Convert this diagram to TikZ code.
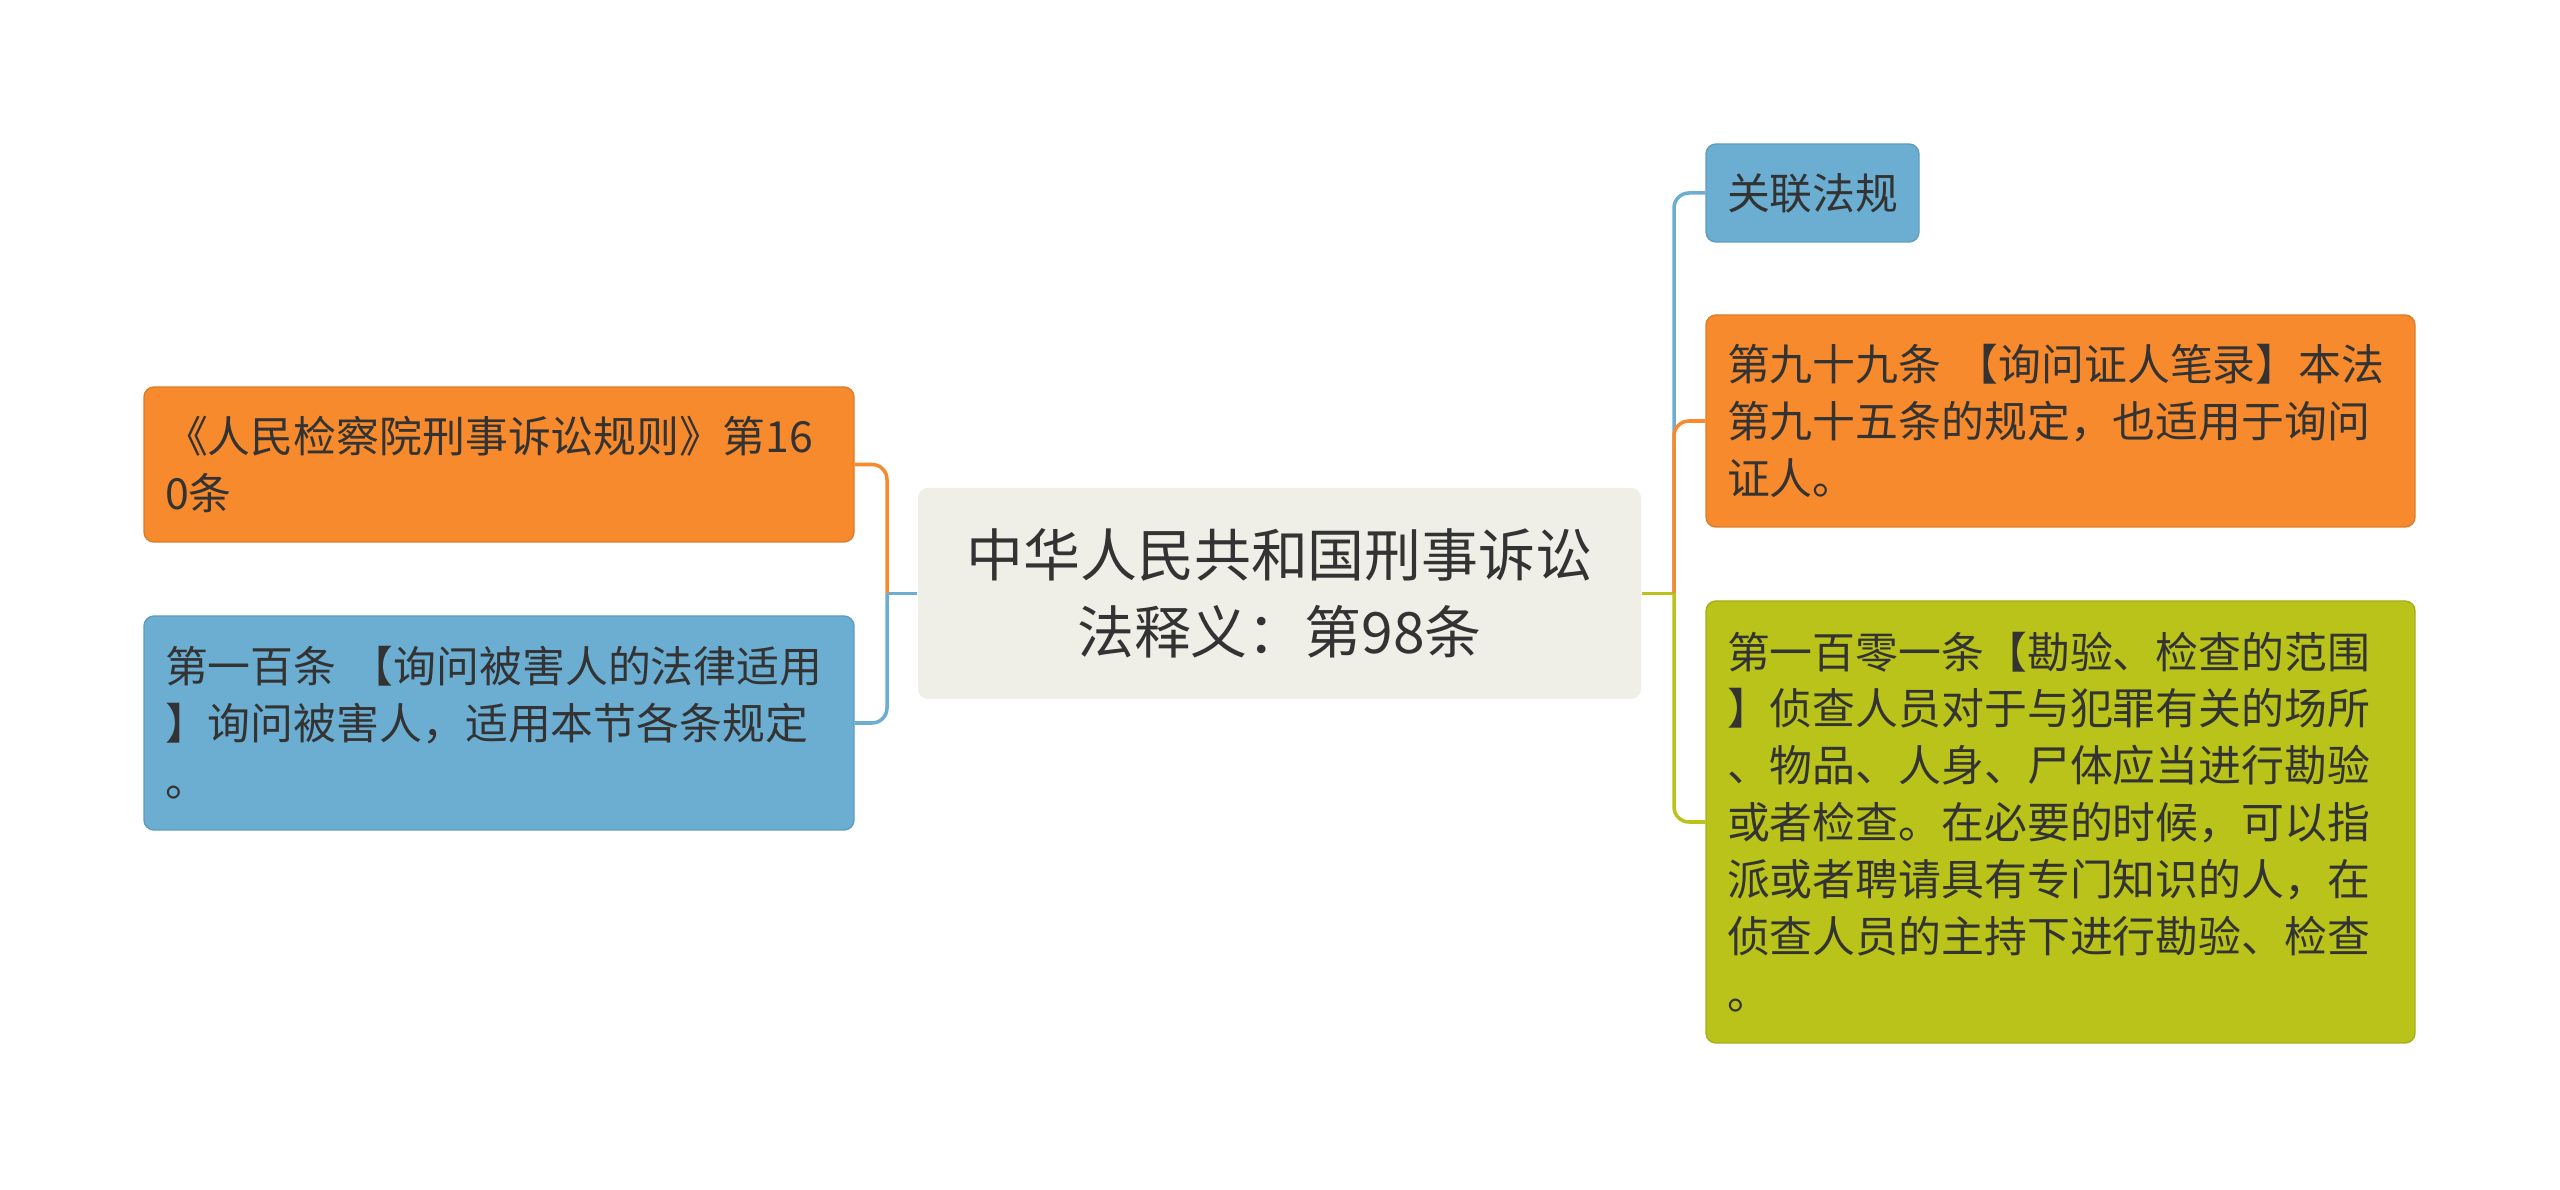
\documentclass[tikz,border=0pt]{standalone}
\usepackage{fontspec}
\setmainfont{Noto Sans CJK SC}
\definecolor{orangebox}{HTML}{F68A2D}
\definecolor{bluebox}{HTML}{6BAED2}
\definecolor{greenbox}{HTML}{B9C31A}
\definecolor{rootfill}{HTML}{EFEFE7}
\definecolor{txt}{HTML}{333333}
\tikzset{
  topic/.style={rounded corners=0.1cm, inner xsep=0.21cm, inner ysep=0pt, align=left,
    text=txt, font=\fontsize{12.2}{16.2}\selectfont},
  link/.style={line width=1pt, rounded corners=0.15cm},
}
\begin{document}
\begin{tikzpicture}
      \useasboundingbox (0,0) rectangle (25.6,11.89);
      \draw
        (12.795,5.955) node[topic, fill=rootfill, align=center, minimum width=7.23cm, minimum height=2.11cm,
          font=\fontsize{16.2}{22}\selectfont] (0){中华人民共和国刑事诉讼\\法释义：第98条}
        (4.99,7.245) node[topic, fill=orangebox, draw=orangebox!90!black, text width=6.68cm, minimum height=1.55cm]
          (1){《人民检察院刑事诉讼规则》第16\\0条}
        (4.99,4.66) node[topic, fill=bluebox, draw=bluebox!90!black, text width=6.68cm, minimum height=2.14cm]
          (2){第一百条 【询问被害人的法律适用\\】询问被害人，适用本节各条规定\\。}
        (18.125,9.96) node[topic, fill=bluebox, draw=bluebox!90!black, text width=1.71cm, minimum height=0.98cm]
          (3){关联法规}
        (20.605,7.68) node[topic, fill=orangebox, draw=orangebox!90!black, text width=6.67cm, minimum height=2.12cm]
          (4){第九十九条 【询问证人笔录】本法\\第九十五条的规定，也适用于询问\\证人。}
        (20.605,3.67) node[topic, fill=greenbox, draw=greenbox!90!black, text width=6.67cm, minimum height=4.42cm]
          (5){第一百零一条【勘验、检查的范围\\】侦查人员对于与犯罪有关的场所\\、物品、人身、尸体应当进行勘验\\或者检查。在必要的时候，可以指\\派或者聘请具有专门知识的人，在\\侦查人员的主持下进行勘验、检查\\。};
      \coordinate (lbus) at (8.87,5.955);
      \coordinate (rbus) at (16.74,5.955);
      \begin{scope}[link]
        \draw[bluebox] (0.west) to (lbus);
        \draw[orangebox] (lbus) |- (1.east);
        \draw[bluebox] (lbus) |- (2.east);
        \draw[greenbox] (0.east) to (rbus);
        \draw[bluebox] (rbus) |- (3.west);
        \draw[orangebox] (rbus) |- (4.west);
        \draw[greenbox] (rbus) |- (5.west);
      \end{scope}
    \end{tikzpicture}
\end{document}
